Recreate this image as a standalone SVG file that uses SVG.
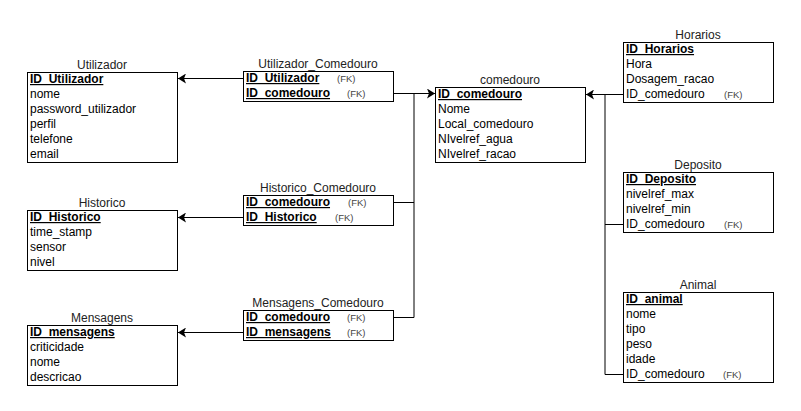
<svg xmlns="http://www.w3.org/2000/svg" width="801" height="411" viewBox="0 0 801 411">
<defs>
<style>
text{font-family:"Liberation Sans",Arial,sans-serif;font-size:12px;fill:#000}
.t{text-anchor:middle;fill:#222}
.k{font-weight:bold;text-decoration:underline}
.fk{font-size:9.5px;fill:#444}
.box{fill:#fff;stroke:#000;stroke-width:1}
.c{fill:none;stroke:#000;stroke-width:1}
</style>
<marker id="arr" viewBox="0 0 8 10" refX="8" refY="5" markerWidth="8" markerHeight="10" orient="auto" markerUnits="userSpaceOnUse">
<path d="M0,0 L8,5 L0,10 L2,5 Z" fill="#000"/>
</marker>
</defs>
<rect width="801" height="411" fill="#fff"/>

<g id="connectors">
<path class="c" d="M243,78.5 H178" marker-end="url(#arr)"/>
<path class="c" d="M393,93.5 H414 M414,93.5 H435" marker-end="url(#arr)"/>
<path class="c" d="M414,93.5 V317.5"/>
<path class="c" d="M393,202.5 H414"/>
<path class="c" d="M393,317.5 H414"/>
<path class="c" d="M243,217.5 H178" marker-end="url(#arr)"/>
<path class="c" d="M243,332.5 H178" marker-end="url(#arr)"/>
<path class="c" d="M623,94.5 H586" marker-end="url(#arr)"/>
<path class="c" d="M605,94.5 V374.5"/>
<path class="c" d="M623,224.5 H605"/>
<path class="c" d="M623,374.5 H605"/>
</g>

<g id="Utilizador">
<text class="t" x="102" y="69">Utilizador</text>
<rect class="box" x="27.5" y="72.5" width="150" height="90"/>
<text class="k" x="30" y="83">ID_Utilizador</text>
<text x="30" y="98">nome</text>
<text x="30" y="113">password_utilizador</text>
<text x="30" y="128">perfil</text>
<text x="30" y="143">telefone</text>
<text x="30" y="158">email</text>
</g>

<g id="Utilizador_Comedouro">
<text class="t" x="318" y="68">Utilizador_Comedouro</text>
<rect class="box" x="243.5" y="71.5" width="150" height="30"/>
<text class="k" x="246" y="82">ID_Utilizador</text>
<text class="fk" x="337" y="82">(FK)</text>
<text class="k" x="246" y="97">ID_comedouro</text>
<text class="fk" x="347" y="97">(FK)</text>
</g>

<g id="comedouro">
<text class="t" x="510" y="84">comedouro</text>
<rect class="box" x="435.5" y="87.5" width="150" height="75"/>
<text class="k" x="438" y="98">ID_comedouro</text>
<text x="438" y="113">Nome</text>
<text x="438" y="128">Local_comedouro</text>
<text x="438" y="143">NIvelref_agua</text>
<text x="438" y="158">NIvelref_racao</text>
</g>

<g id="Horarios">
<text class="t" x="698" y="39">Horarios</text>
<rect class="box" x="623.5" y="42.5" width="150" height="60"/>
<text class="k" x="626" y="53">ID_Horarios</text>
<text x="626" y="68">Hora</text>
<text x="626" y="83">Dosagem_racao</text>
<text x="626" y="98">ID_comedouro</text>
<text class="fk" x="724" y="98">(FK)</text>
</g>

<g id="Deposito">
<text class="t" x="698" y="169">Deposito</text>
<rect class="box" x="623.5" y="172.5" width="150" height="60"/>
<text class="k" x="626" y="183">ID_Deposito</text>
<text x="626" y="198">nivelref_max</text>
<text x="626" y="213">nivelref_min</text>
<text x="626" y="228">ID_comedouro</text>
<text class="fk" x="724" y="228">(FK)</text>
</g>

<g id="Animal">
<text class="t" x="698" y="289">Animal</text>
<rect class="box" x="623.5" y="292.5" width="150" height="90"/>
<text class="k" x="626" y="303">ID_animal</text>
<text x="626" y="318">nome</text>
<text x="626" y="333">tipo</text>
<text x="626" y="348">peso</text>
<text x="626" y="363">idade</text>
<text x="626" y="378">ID_comedouro</text>
<text class="fk" x="723" y="378">(FK)</text>
</g>

<g id="Historico">
<text class="t" x="102" y="207">Historico</text>
<rect class="box" x="27.5" y="210.5" width="150" height="60"/>
<text class="k" x="30" y="221">ID_Historico</text>
<text x="30" y="236">time_stamp</text>
<text x="30" y="251">sensor</text>
<text x="30" y="266">nivel</text>
</g>

<g id="Historico_Comedouro">
<text class="t" x="318" y="192">Historico_Comedouro</text>
<rect class="box" x="243.5" y="195.5" width="150" height="30"/>
<text class="k" x="246" y="206">ID_comedouro</text>
<text class="fk" x="348" y="206">(FK)</text>
<text class="k" x="246" y="221">ID_Historico</text>
<text class="fk" x="335" y="221">(FK)</text>
</g>

<g id="Mensagens">
<text class="t" x="102" y="322">Mensagens</text>
<rect class="box" x="27.5" y="325.5" width="150" height="60"/>
<text class="k" x="30" y="336">ID_mensagens</text>
<text x="30" y="351">criticidade</text>
<text x="30" y="366">nome</text>
<text x="30" y="381">descricao</text>
</g>

<g id="Mensagens_Comedouro">
<text class="t" x="318" y="307">Mensagens_Comedouro</text>
<rect class="box" x="243.5" y="310.5" width="150" height="30"/>
<text class="k" x="246" y="321">ID_comedouro</text>
<text class="fk" x="347" y="321">(FK)</text>
<text class="k" x="246" y="336">ID_mensagens</text>
<text class="fk" x="347" y="336">(FK)</text>
</g>
</svg>
